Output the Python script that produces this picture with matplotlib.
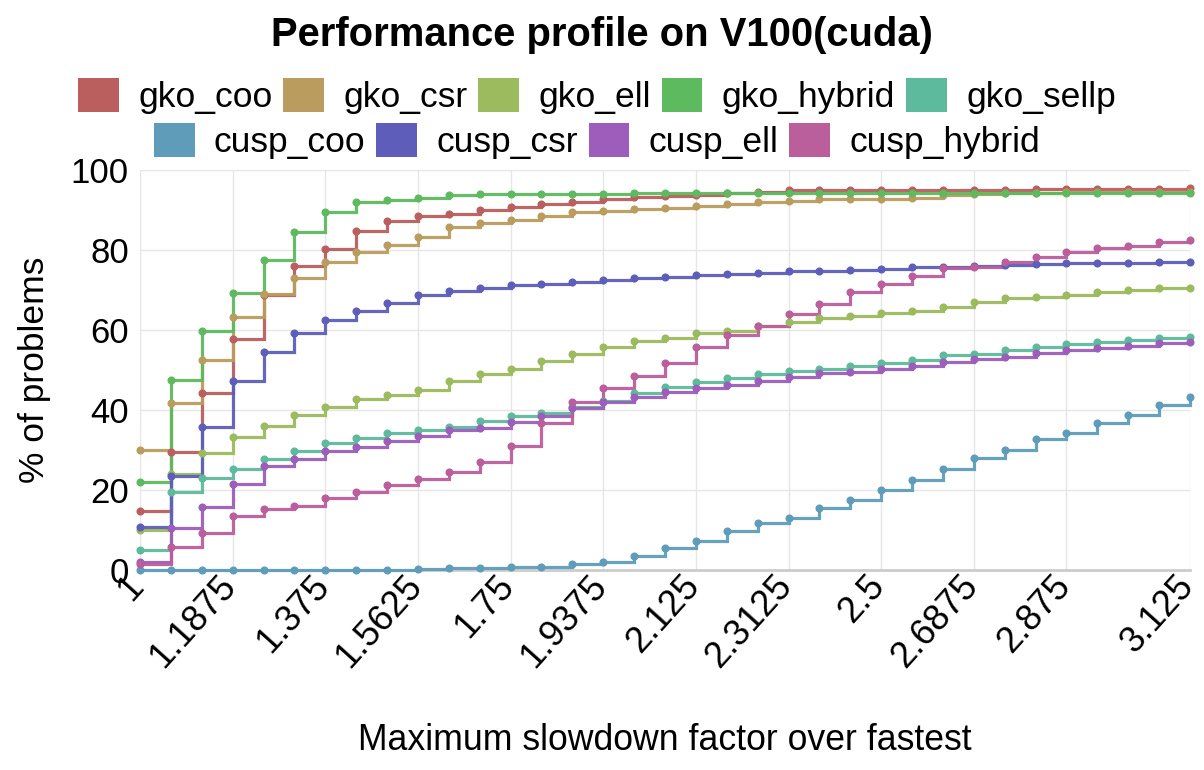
import colorsys
import matplotlib
matplotlib.use("Agg")
import matplotlib.pyplot as plt
import matplotlib.patches as mpatches
import matplotlib.transforms as mtransforms
import numpy as np

plt.rcParams['font.family'] = ['Liberation Sans', 'DejaVu Sans']

# slowdown factors 1 .. 3.125 in steps of 1/16
x = np.arange(35) * 0.0625 + 1.0

names = ["gko_coo", "gko_csr", "gko_ell", "gko_hybrid", "gko_sellp",
         "cusp_coo", "cusp_csr", "cusp_ell", "cusp_hybrid"]

gko_coo = [14.8, 29.5, 44.2, 57.8, 68.8, 75.9, 80.25, 84.7, 87.2, 88.4, 89.0, 90.0,
           90.7, 91.4, 92.1, 92.8, 93.3, 93.6, 93.75, 94.3, 94.6, 94.9, 94.9,
           95.0, 95.1, 95.1, 95.1, 95.1, 95.1, 95.3, 95.3, 95.3, 95.3, 95.3, 95.4]
gko_csr = [30.1, 41.7, 52.4, 63.25, 69.1, 73.0, 77.1, 79.5, 81.3, 83.3, 85.75, 86.8,
           87.5, 88.5, 89.4, 89.75, 90.3, 90.5, 91.0, 91.4, 92.0, 92.2, 92.75,
           92.8, 92.8, 93.1, 93.7, 94.1, 94.2, 94.3, 94.4, 94.4, 94.4, 94.5, 94.5]
gko_ell = [10.0, 24.1, 29.2, 33.2, 36.0, 38.7, 40.7, 42.7, 43.7, 45.0, 47.2, 48.9,
           50.3, 52.3, 53.9, 55.7, 57.3, 57.9, 59.25, 59.8, 61.0, 62.0, 63.0,
           63.6, 64.25, 64.75, 65.75, 66.9, 67.9, 68.25, 68.75, 69.6, 70.1, 70.4, 70.6]
gko_hybrid = [21.9, 47.6, 59.7, 69.25, 77.4, 84.4, 89.4, 92.1, 92.6, 93.1, 93.75, 93.9,
              94.0, 94.0, 94.0, 94.1, 94.2, 94.2, 94.2, 94.2, 94.2, 94.2, 94.2,
              94.2, 94.2, 94.2, 94.2, 94.2, 94.2, 94.2, 94.2, 94.2, 94.2, 94.2, 94.2]
gko_sellp = [5.1, 19.4, 23.1, 25.25, 27.7, 29.75, 31.75, 32.9, 34.2, 35.0, 35.8, 37.3,
             38.4, 39.2, 40.8, 42.3, 44.3, 45.8, 47.0, 48.1, 48.9, 49.7, 50.3,
             51.1, 51.7, 52.4, 53.7, 54.0, 54.9, 55.75, 56.5, 57.1, 57.5, 58.0, 58.25]
cusp_coo = [0, 0, 0, 0, 0, 0, 0, 0, 0, 0.25, 0.4, 0.6,
            0.7, 0.8, 1.4, 2.1, 3.6, 5.4, 7.3, 9.7, 11.7, 13.1, 15.6,
            17.5, 19.9, 22.5, 25.25, 27.9, 30.0, 32.7, 34.3, 36.8, 38.7, 41.25, 43.3]
cusp_csr = [10.8, 23.4, 35.8, 47.25, 54.5, 59.25, 62.5, 64.8, 66.7, 68.8, 69.8, 70.6,
            71.2, 71.5, 72.0, 72.4, 73.0, 73.25, 73.7, 74.0, 74.25, 74.75, 74.8,
            75.1, 75.3, 75.75, 75.8, 76.0, 76.3, 76.6, 76.75, 76.75, 76.75, 76.9, 76.9]
cusp_ell = [2.1, 10.5, 15.8, 21.6, 26.1, 27.75, 29.75, 30.8, 32.25, 33.5, 35.0, 35.6,
            37.1, 38.5, 40.4, 41.9, 43.25, 44.4, 45.6, 46.25, 47.25, 48.3, 49.2,
            49.6, 50.25, 51.0, 52.1, 52.7, 53.3, 54.3, 54.9, 55.4, 56.0, 56.8, 57.1]
cusp_hybrid = [1.4, 5.8, 9.3, 13.5, 15.25, 15.9, 17.9, 19.5, 21.2, 22.7, 24.4, 27.1,
               31.0, 36.8, 41.9, 45.6, 48.6, 51.75, 55.75, 58.75, 61.0, 64.1, 66.6,
               69.6, 71.6, 73.5, 75.4, 75.8, 77.1, 78.2, 79.5, 80.4, 81.0, 81.9, 82.4]

series = [gko_coo, gko_csr, gko_ell, gko_hybrid, gko_sellp,
          cusp_coo, cusp_csr, cusp_ell, cusp_hybrid]

# hls palette, 9 hues
colors = [colorsys.hls_to_rgb(i / 9.0, 0.55, 0.4) for i in range(9)]

xticklabels = ["1", "1.1875", "1.375", "1.5625", "1.75", "1.9375", "2.125",
               "2.3125", "2.5", "2.6875", "2.875", "3.125"]
xticks = [float(t) for t in xticklabels]

fig = plt.figure(figsize=(12.04, 7.7), dpi=100)
ax = fig.add_axes([140 / 1204, 1 - 570 / 770, 1050 / 1204, 400 / 770])

for name, vals, c in zip(names, series, colors):
    ax.plot(x, vals, drawstyle='steps-post', color=c, lw=2.3, alpha=0.95,
            solid_joinstyle='miter', clip_on=False, zorder=3)
    ax.plot(x, vals, 'o', color=c, ms=4.8, clip_on=False, zorder=4)

ax.set_xlim(1, 3.125)
ax.set_ylim(0, 100)
ax.set_xticks(xticks)
ax.set_xticklabels(xticklabels, rotation=48, ha='right', va='baseline',
                   rotation_mode='anchor', fontsize=26)
ax.set_yticks([0, 20, 40, 60, 80, 100])
ax.set_yticklabels(["0", "20", "40", "60", "80", "100"], fontsize=25)
ax.tick_params(axis='both', length=0)
ax.tick_params(axis='x', pad=12)
ax.tick_params(axis='y', pad=8)
shift = mtransforms.ScaledTranslation(5 / 100, 0, fig.dpi_scale_trans)
for lbl in ax.get_xticklabels():
    lbl.set_transform(lbl.get_transform() + shift)
ax.grid(True, color='#e6e6e6', lw=1)
ax.set_axisbelow(True)
for s in ['top', 'right', 'left']:
    ax.spines[s].set_visible(False)
ax.spines['bottom'].set_color('#cccccc')
ax.spines['bottom'].set_linewidth(2)

ax.set_xlabel("Maximum slowdown factor over fastest", fontsize=25.7)
ax.xaxis.set_label_coords(0.5, -(741 - 570) / 400, transform=ax.transAxes)
ax.xaxis.label.set_va('center')
ax.set_ylabel("% of problems", fontsize=25.5, labelpad=14)

fig.text(0.5, 1 - 35 / 770, "Performance profile on V100(cuda)", ha='center',
         va='center', fontsize=28.8, fontweight='bold')

handles = [mpatches.Patch(facecolor=c, edgecolor='none', label=n)
           for n, c in zip(names, colors)]
leg_kw = dict(frameon=False, fontsize=25.5, handlelength=1.15, handleheight=1.1,
              handletextpad=0.55, columnspacing=0.3, borderpad=0, borderaxespad=0)
fig.legend(handles=handles[:5], ncol=5, loc='center',
           bbox_to_anchor=(597 / 1204, 1 - 96 / 770), **leg_kw)
fig.legend(handles=handles[5:], ncol=4, loc='center',
           bbox_to_anchor=(597 / 1204, 1 - 141 / 770), **leg_kw)

fig.savefig("out.png", dpi=100)
